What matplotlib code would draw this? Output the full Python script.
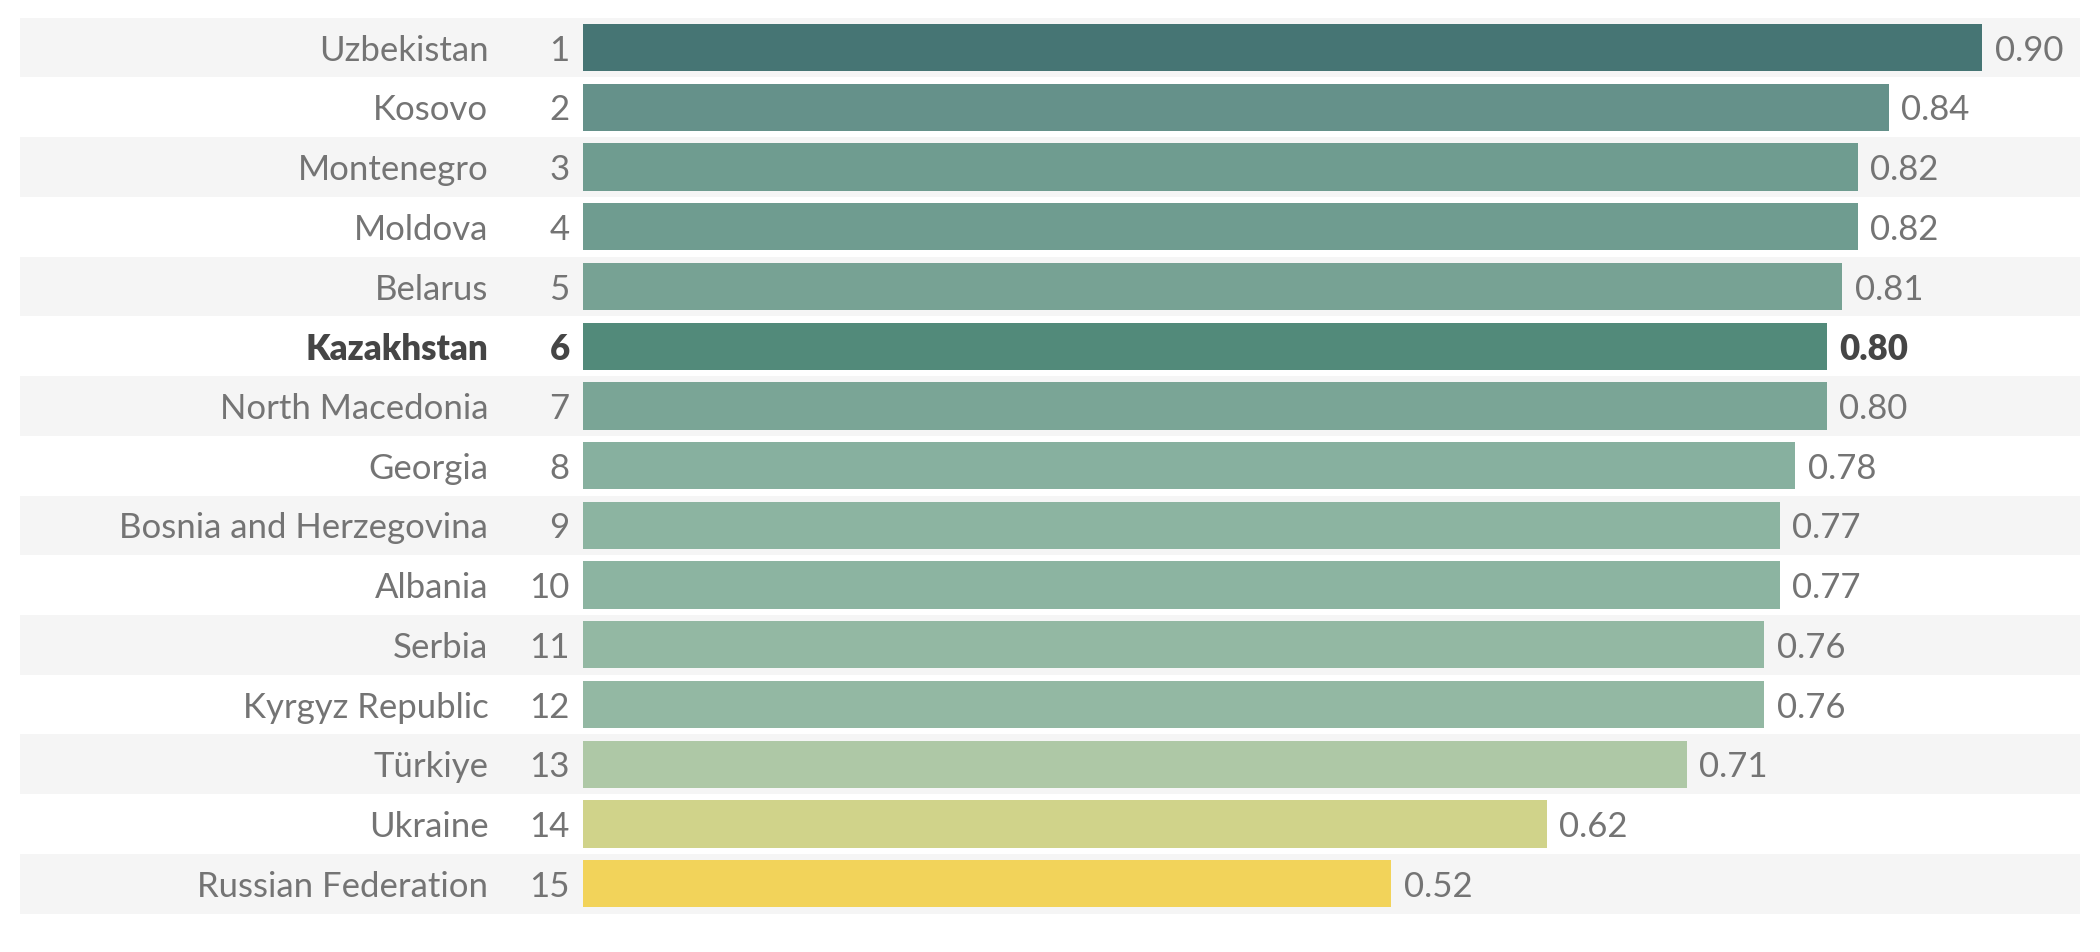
import matplotlib
matplotlib.use("Agg")
import matplotlib.pyplot as plt

# datos
paises = ["Uzbekistan", "Kosovo", "Montenegro", "Moldova", "Belarus", "Kazakhstan",
          "North Macedonia", "Georgia", "Bosnia and Herzegovina", "Albania", "Serbia",
          "Kyrgyz Republic", "Türkiye", "Ukraine", "Russian Federation"]
rangos = [1, 2, 3, 4, 5, 6, 7, 8, 9, 10, 11, 12, 13, 14, 15]
valores = [0.90, 0.84, 0.82, 0.82, 0.81, 0.80, 0.80, 0.78, 0.77, 0.77, 0.76, 0.76, 0.71, 0.62, 0.52]
colores = ["#467574", "#65918a", "#6f9c90", "#6f9c90", "#77a294", "#528a7a",
           "#7aa596", "#87b09f", "#8cb4a1", "#8cb4a1", "#93b8a3", "#93b8a3",
           "#aec8a6", "#d0d38a", "#f2d35a"]
destacado = "Kazakhstan"

plt.rcParams['font.family'] = ['Lato', 'DejaVu Sans']

fig = plt.figure(figsize=(21, 9.53), dpi=100)
ax = fig.add_axes([20 / 2100, 0.0403, 2060 / 2100, 0.9401])

n = len(paises)
xmin, xmax = -0.362, 0.963

# franjas de fondo
for i in range(n):
    if i % 2 == 0:
        ax.axhspan(i - 0.5, i + 0.5, color="#f5f5f5", zorder=0, lw=0)

ax.barh(range(n), valores, height=0.79, color=colores, zorder=2)

for i in range(n):
    negrita = paises[i] == destacado
    peso = "heavy" if negrita else "normal"
    color_txt = "#454545" if negrita else "#747474"
    ax.annotate(paises[i], (0, i), xytext=(-68, -1.5), textcoords="offset points",
                ha="right", va="center", fontsize=25, fontweight=peso, color=color_txt)
    ax.annotate(str(rangos[i]), (0, i), xytext=(-9.5, -1.5), textcoords="offset points",
                ha="right", va="center", fontsize=25, fontweight=peso, color=color_txt)
    ax.annotate(f"{valores[i]:.2f}", (valores[i], i), xytext=(9, -1.5), textcoords="offset points",
                ha="left", va="center", fontsize=25, fontweight=peso, color=color_txt)

ax.set_xlim(xmin, xmax)
ax.set_ylim(n - 0.5, -0.5)
ax.axis("off")

fig.savefig("out.png", dpi=100, facecolor="white")
